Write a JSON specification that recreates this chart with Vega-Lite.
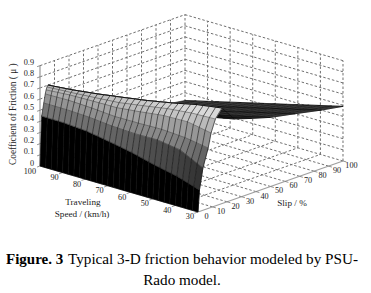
{"$schema":"https://vega.github.io/schema/vega-lite/v6.json","width":371,"height":293,"padding":0,"autosize":{"type":"none"},"background":"white","config":{"view":{"stroke":null}},
"data":{"values":[
{"part":"cap1","t":"Figure. 3","v":100,"s":-23.45,"m":-0.7286},{"part":"cap2","t":"Typical 3-D friction behavior modeled by PSU-","v":100,"s":19.31,"m":-0.9231},{"part":"cap3","t":"Rado model.","v":100,"s":97.93,"m":-1.4712},
{"part":"wall","id":"a1","v":100,"s":0,"m":0.1},{"part":"wall","id":"a1","v":100,"s":100,"m":0.1},
{"part":"wall","id":"a2","v":100,"s":0,"m":0.2},{"part":"wall","id":"a2","v":100,"s":100,"m":0.2},
{"part":"wall","id":"a3","v":100,"s":0,"m":0.3},{"part":"wall","id":"a3","v":100,"s":100,"m":0.3},
{"part":"wall","id":"a4","v":100,"s":0,"m":0.4},{"part":"wall","id":"a4","v":100,"s":100,"m":0.4},
{"part":"wall","id":"a5","v":100,"s":0,"m":0.5},{"part":"wall","id":"a5","v":100,"s":100,"m":0.5},
{"part":"wall","id":"a6","v":100,"s":0,"m":0.6},{"part":"wall","id":"a6","v":100,"s":100,"m":0.6},
{"part":"wall","id":"a7","v":100,"s":0,"m":0.7},{"part":"wall","id":"a7","v":100,"s":100,"m":0.7},
{"part":"wall","id":"a8","v":100,"s":0,"m":0.8},{"part":"wall","id":"a8","v":100,"s":100,"m":0.8},
{"part":"wall","id":"a9","v":100,"s":0,"m":0.9},{"part":"wall","id":"a9","v":100,"s":100,"m":0.9},
{"part":"wall","id":"b1","v":100,"s":100,"m":0.1},{"part":"wall","id":"b1","v":30,"s":100,"m":0.1},
{"part":"wall","id":"b2","v":100,"s":100,"m":0.2},{"part":"wall","id":"b2","v":30,"s":100,"m":0.2},
{"part":"wall","id":"b3","v":100,"s":100,"m":0.3},{"part":"wall","id":"b3","v":30,"s":100,"m":0.3},
{"part":"wall","id":"b4","v":100,"s":100,"m":0.4},{"part":"wall","id":"b4","v":30,"s":100,"m":0.4},
{"part":"wall","id":"b5","v":100,"s":100,"m":0.5},{"part":"wall","id":"b5","v":30,"s":100,"m":0.5},
{"part":"wall","id":"b6","v":100,"s":100,"m":0.6},{"part":"wall","id":"b6","v":30,"s":100,"m":0.6},
{"part":"wall","id":"b7","v":100,"s":100,"m":0.7},{"part":"wall","id":"b7","v":30,"s":100,"m":0.7},
{"part":"wall","id":"b8","v":100,"s":100,"m":0.8},{"part":"wall","id":"b8","v":30,"s":100,"m":0.8},
{"part":"wall","id":"b9","v":100,"s":100,"m":0.9},{"part":"wall","id":"b9","v":30,"s":100,"m":0.9},
{"part":"wall","id":"c1","v":100,"s":10,"m":0},{"part":"wall","id":"c1","v":100,"s":10,"m":0.9},
{"part":"wall","id":"c2","v":100,"s":20,"m":0},{"part":"wall","id":"c2","v":100,"s":20,"m":0.9},
{"part":"wall","id":"c3","v":100,"s":30,"m":0},{"part":"wall","id":"c3","v":100,"s":30,"m":0.9},
{"part":"wall","id":"c4","v":100,"s":40,"m":0},{"part":"wall","id":"c4","v":100,"s":40,"m":0.9},
{"part":"wall","id":"c5","v":100,"s":50,"m":0},{"part":"wall","id":"c5","v":100,"s":50,"m":0.9},
{"part":"wall","id":"c6","v":100,"s":60,"m":0},{"part":"wall","id":"c6","v":100,"s":60,"m":0.9},
{"part":"wall","id":"c7","v":100,"s":70,"m":0},{"part":"wall","id":"c7","v":100,"s":70,"m":0.9},
{"part":"wall","id":"c8","v":100,"s":80,"m":0},{"part":"wall","id":"c8","v":100,"s":80,"m":0.9},
{"part":"wall","id":"c9","v":100,"s":90,"m":0},{"part":"wall","id":"c9","v":100,"s":90,"m":0.9},
{"part":"wall","id":"c10","v":100,"s":100,"m":0},{"part":"wall","id":"c10","v":100,"s":100,"m":0.9},
{"part":"wall","id":"d1","v":90,"s":100,"m":0},{"part":"wall","id":"d1","v":90,"s":100,"m":0.9},
{"part":"wall","id":"d2","v":80,"s":100,"m":0},{"part":"wall","id":"d2","v":80,"s":100,"m":0.9},
{"part":"wall","id":"d3","v":70,"s":100,"m":0},{"part":"wall","id":"d3","v":70,"s":100,"m":0.9},
{"part":"wall","id":"d4","v":60,"s":100,"m":0},{"part":"wall","id":"d4","v":60,"s":100,"m":0.9},
{"part":"wall","id":"d5","v":50,"s":100,"m":0},{"part":"wall","id":"d5","v":50,"s":100,"m":0.9},
{"part":"wall","id":"d6","v":40,"s":100,"m":0},{"part":"wall","id":"d6","v":40,"s":100,"m":0.9},
{"part":"wall","id":"d7","v":30,"s":100,"m":0},{"part":"wall","id":"d7","v":30,"s":100,"m":0.9},
{"part":"wall","id":"e0","v":100,"s":100,"m":0},{"part":"wall","id":"e0","v":30,"s":100,"m":0},
{"part":"wall","id":"e1","v":100,"s":10,"m":0},{"part":"wall","id":"e1","v":30,"s":10,"m":0},
{"part":"wall","id":"e2","v":100,"s":20,"m":0},{"part":"wall","id":"e2","v":30,"s":20,"m":0},
{"part":"wall","id":"e3","v":100,"s":30,"m":0},{"part":"wall","id":"e3","v":30,"s":30,"m":0},
{"part":"wall","id":"e4","v":100,"s":40,"m":0},{"part":"wall","id":"e4","v":30,"s":40,"m":0},
{"part":"wall","id":"e5","v":100,"s":50,"m":0},{"part":"wall","id":"e5","v":30,"s":50,"m":0},
{"part":"wall","id":"e6","v":100,"s":60,"m":0},{"part":"wall","id":"e6","v":30,"s":60,"m":0},
{"part":"wall","id":"e7","v":100,"s":70,"m":0},{"part":"wall","id":"e7","v":30,"s":70,"m":0},
{"part":"wall","id":"e8","v":100,"s":80,"m":0},{"part":"wall","id":"e8","v":30,"s":80,"m":0},
{"part":"wall","id":"e9","v":100,"s":90,"m":0},{"part":"wall","id":"e9","v":30,"s":90,"m":0},
{"part":"wall","id":"f0","v":100,"s":0,"m":0},{"part":"wall","id":"f0","v":100,"s":100,"m":0},
{"part":"wall","id":"f1","v":90,"s":0,"m":0},{"part":"wall","id":"f1","v":90,"s":100,"m":0},
{"part":"wall","id":"f2","v":80,"s":0,"m":0},{"part":"wall","id":"f2","v":80,"s":100,"m":0},
{"part":"wall","id":"f3","v":70,"s":0,"m":0},{"part":"wall","id":"f3","v":70,"s":100,"m":0},
{"part":"wall","id":"f4","v":60,"s":0,"m":0},{"part":"wall","id":"f4","v":60,"s":100,"m":0},
{"part":"wall","id":"f5","v":50,"s":0,"m":0},{"part":"wall","id":"f5","v":50,"s":100,"m":0},
{"part":"wall","id":"f6","v":40,"s":0,"m":0},{"part":"wall","id":"f6","v":40,"s":100,"m":0},
{"part":"axis","id":"z","v":100,"s":0,"m":0},{"part":"axis","id":"z","v":100,"s":0,"m":0.9},
{"part":"axis","id":"x","v":30,"s":0,"m":0},{"part":"axis","id":"x","v":30,"s":100,"m":0},
{"part":"axis","id":"y","v":100,"s":0,"m":0},{"part":"axis","id":"y","v":30,"s":0,"m":0},
{"part":"tick","id":"z0","v":100,"s":0,"m":0},{"part":"tick","id":"z0","v":100,"s":-2,"m":0},
{"part":"tick","id":"z1","v":100,"s":0,"m":0.1},{"part":"tick","id":"z1","v":100,"s":-2,"m":0.1},
{"part":"tick","id":"z2","v":100,"s":0,"m":0.2},{"part":"tick","id":"z2","v":100,"s":-2,"m":0.2},
{"part":"tick","id":"z3","v":100,"s":0,"m":0.3},{"part":"tick","id":"z3","v":100,"s":-2,"m":0.3},
{"part":"tick","id":"z4","v":100,"s":0,"m":0.4},{"part":"tick","id":"z4","v":100,"s":-2,"m":0.4},
{"part":"tick","id":"z5","v":100,"s":0,"m":0.5},{"part":"tick","id":"z5","v":100,"s":-2,"m":0.5},
{"part":"tick","id":"z6","v":100,"s":0,"m":0.6},{"part":"tick","id":"z6","v":100,"s":-2,"m":0.6},
{"part":"tick","id":"z7","v":100,"s":0,"m":0.7},{"part":"tick","id":"z7","v":100,"s":-2,"m":0.7},
{"part":"tick","id":"z8","v":100,"s":0,"m":0.8},{"part":"tick","id":"z8","v":100,"s":-2,"m":0.8},
{"part":"tick","id":"z9","v":100,"s":0,"m":0.9},{"part":"tick","id":"z9","v":100,"s":-2,"m":0.9},
{"part":"tick","id":"v9","v":90,"s":0,"m":0},{"part":"tick","id":"v9","v":90,"s":-2.5,"m":0},
{"part":"tick","id":"v8","v":80,"s":0,"m":0},{"part":"tick","id":"v8","v":80,"s":-2.5,"m":0},
{"part":"tick","id":"v7","v":70,"s":0,"m":0},{"part":"tick","id":"v7","v":70,"s":-2.5,"m":0},
{"part":"tick","id":"v6","v":60,"s":0,"m":0},{"part":"tick","id":"v6","v":60,"s":-2.5,"m":0},
{"part":"tick","id":"v5","v":50,"s":0,"m":0},{"part":"tick","id":"v5","v":50,"s":-2.5,"m":0},
{"part":"tick","id":"v4","v":40,"s":0,"m":0},{"part":"tick","id":"v4","v":40,"s":-2.5,"m":0},
{"part":"tick","id":"v3","v":30,"s":0,"m":0},{"part":"tick","id":"v3","v":30,"s":-2.5,"m":0},
{"part":"tick","id":"s1","v":30,"s":10,"m":0},{"part":"tick","id":"s1","v":28.5,"s":10,"m":0},
{"part":"tick","id":"s2","v":30,"s":20,"m":0},{"part":"tick","id":"s2","v":28.5,"s":20,"m":0},
{"part":"tick","id":"s3","v":30,"s":30,"m":0},{"part":"tick","id":"s3","v":28.5,"s":30,"m":0},
{"part":"tick","id":"s4","v":30,"s":40,"m":0},{"part":"tick","id":"s4","v":28.5,"s":40,"m":0},
{"part":"tick","id":"s5","v":30,"s":50,"m":0},{"part":"tick","id":"s5","v":28.5,"s":50,"m":0},
{"part":"tick","id":"s6","v":30,"s":60,"m":0},{"part":"tick","id":"s6","v":28.5,"s":60,"m":0},
{"part":"tick","id":"s7","v":30,"s":70,"m":0},{"part":"tick","id":"s7","v":28.5,"s":70,"m":0},
{"part":"tick","id":"s8","v":30,"s":80,"m":0},{"part":"tick","id":"s8","v":28.5,"s":80,"m":0},
{"part":"tick","id":"s9","v":30,"s":90,"m":0},{"part":"tick","id":"s9","v":28.5,"s":90,"m":0},
{"part":"tick","id":"s10","v":30,"s":100,"m":0},{"part":"tick","id":"s10","v":28.5,"s":100,"m":0},
{"part":"zl","t":"0","v":100,"s":0,"m":0},{"part":"zl","t":"0.1","v":100,"s":0,"m":0.1},{"part":"zl","t":"0.2","v":100,"s":0,"m":0.2},{"part":"zl","t":"0.3","v":100,"s":0,"m":0.3},{"part":"zl","t":"0.4","v":100,"s":0,"m":0.4},{"part":"zl","t":"0.5","v":100,"s":0,"m":0.5},{"part":"zl","t":"0.6","v":100,"s":0,"m":0.6},{"part":"zl","t":"0.7","v":100,"s":0,"m":0.7},{"part":"zl","t":"0.8","v":100,"s":0,"m":0.8},{"part":"zl","t":"0.9","v":100,"s":0,"m":0.9},
{"part":"vl","t":"100","v":100,"s":0,"m":0},{"part":"vl","t":"90","v":90,"s":0,"m":0},{"part":"vl","t":"80","v":80,"s":0,"m":0},{"part":"vl","t":"70","v":70,"s":0,"m":0},{"part":"vl","t":"60","v":60,"s":0,"m":0},{"part":"vl","t":"50","v":50,"s":0,"m":0},{"part":"vl","t":"40","v":40,"s":0,"m":0},{"part":"vl","t":"30","v":30,"s":0,"m":0},
{"part":"sl","t":"0","v":30,"s":0,"m":0},{"part":"sl","t":"10","v":30,"s":10,"m":0},{"part":"sl","t":"20","v":30,"s":20,"m":0},{"part":"sl","t":"30","v":30,"s":30,"m":0},{"part":"sl","t":"40","v":30,"s":40,"m":0},{"part":"sl","t":"50","v":30,"s":50,"m":0},{"part":"sl","t":"60","v":30,"s":60,"m":0},{"part":"sl","t":"70","v":30,"s":70,"m":0},{"part":"sl","t":"80","v":30,"s":80,"m":0},{"part":"sl","t":"90","v":30,"s":90,"m":0},{"part":"sl","t":"100","v":30,"s":100,"m":0},
{"part":"title","t":"Traveling","v":64.8,"s":-25.2,"m":0},{"part":"title","t":"Speed / (km/h)","v":56.7,"s":-38.4,"m":0},{"part":"title","t":"Slip / %","v":13.4,"s":39,"m":0},
{"part":"ztitle","t":"Coefficient of Friction ( μ )","v":100,"s":-18.6,"m":0.55},
{"part":"far","r":6,"v":100,"s":5.5,"m":0.701},{"part":"far","r":6,"v":95,"s":6.29,"m":0.705},{"part":"far","r":6,"v":90,"s":7.07,"m":0.709},{"part":"far","r":6,"v":85,"s":7.86,"m":0.717},{"part":"far","r":6,"v":80,"s":8.64,"m":0.725},{"part":"far","r":6,"v":75,"s":9.43,"m":0.736},{"part":"far","r":6,"v":70,"s":10.21,"m":0.746},{"part":"far","r":6,"v":65,"s":11,"m":0.758},{"part":"far","r":6,"v":60,"s":11.79,"m":0.769},{"part":"far","r":6,"v":55,"s":12.57,"m":0.784},{"part":"far","r":6,"v":50,"s":13.36,"m":0.799},{"part":"far","r":6,"v":45,"s":14.14,"m":0.818},{"part":"far","r":6,"v":40,"s":14.93,"m":0.836},{"part":"far","r":6,"v":35,"s":15.71,"m":0.847},{"part":"far","r":6,"v":30,"s":16.5,"m":0.857},
{"part":"far","r":7,"v":100,"s":25,"m":0.42},{"part":"far","r":7,"v":95,"s":25,"m":0.441},{"part":"far","r":7,"v":90,"s":25,"m":0.463},{"part":"far","r":7,"v":85,"s":25,"m":0.484},{"part":"far","r":7,"v":80,"s":25,"m":0.506},{"part":"far","r":7,"v":75,"s":25,"m":0.527},{"part":"far","r":7,"v":70,"s":25,"m":0.549},{"part":"far","r":7,"v":65,"s":25,"m":0.57},{"part":"far","r":7,"v":60,"s":25,"m":0.591},{"part":"far","r":7,"v":55,"s":25,"m":0.613},{"part":"far","r":7,"v":50,"s":25,"m":0.634},{"part":"far","r":7,"v":45,"s":25,"m":0.656},{"part":"far","r":7,"v":40,"s":25,"m":0.677},{"part":"far","r":7,"v":35,"s":25,"m":0.699},{"part":"far","r":7,"v":30,"s":25,"m":0.72},
{"part":"far","r":8,"v":100,"s":37,"m":0.33},{"part":"far","r":8,"v":95,"s":37,"m":0.354},{"part":"far","r":8,"v":90,"s":37,"m":0.379},{"part":"far","r":8,"v":85,"s":37,"m":0.403},{"part":"far","r":8,"v":80,"s":37,"m":0.427},{"part":"far","r":8,"v":75,"s":37,"m":0.451},{"part":"far","r":8,"v":70,"s":37,"m":0.476},{"part":"far","r":8,"v":65,"s":37,"m":0.5},{"part":"far","r":8,"v":60,"s":37,"m":0.524},{"part":"far","r":8,"v":55,"s":37,"m":0.549},{"part":"far","r":8,"v":50,"s":37,"m":0.573},{"part":"far","r":8,"v":45,"s":37,"m":0.597},{"part":"far","r":8,"v":40,"s":37,"m":0.621},{"part":"far","r":8,"v":35,"s":37,"m":0.646},{"part":"far","r":8,"v":30,"s":37,"m":0.67},
{"part":"far","r":9,"v":100,"s":50,"m":0.27},{"part":"far","r":9,"v":95,"s":50,"m":0.295},{"part":"far","r":9,"v":90,"s":50,"m":0.32},{"part":"far","r":9,"v":85,"s":50,"m":0.345},{"part":"far","r":9,"v":80,"s":50,"m":0.37},{"part":"far","r":9,"v":75,"s":50,"m":0.395},{"part":"far","r":9,"v":70,"s":50,"m":0.42},{"part":"far","r":9,"v":65,"s":50,"m":0.445},{"part":"far","r":9,"v":60,"s":50,"m":0.47},{"part":"far","r":9,"v":55,"s":50,"m":0.495},{"part":"far","r":9,"v":50,"s":50,"m":0.52},{"part":"far","r":9,"v":45,"s":50,"m":0.545},{"part":"far","r":9,"v":40,"s":50,"m":0.57},{"part":"far","r":9,"v":35,"s":50,"m":0.595},{"part":"far","r":9,"v":30,"s":50,"m":0.62},
{"part":"far","r":10,"v":100,"s":67,"m":0.21},{"part":"far","r":10,"v":95,"s":67,"m":0.236},{"part":"far","r":10,"v":90,"s":67,"m":0.262},{"part":"far","r":10,"v":85,"s":67,"m":0.288},{"part":"far","r":10,"v":80,"s":67,"m":0.314},{"part":"far","r":10,"v":75,"s":67,"m":0.341},{"part":"far","r":10,"v":70,"s":67,"m":0.367},{"part":"far","r":10,"v":65,"s":67,"m":0.393},{"part":"far","r":10,"v":60,"s":67,"m":0.419},{"part":"far","r":10,"v":55,"s":67,"m":0.445},{"part":"far","r":10,"v":50,"s":67,"m":0.471},{"part":"far","r":10,"v":45,"s":67,"m":0.497},{"part":"far","r":10,"v":40,"s":67,"m":0.523},{"part":"far","r":10,"v":35,"s":67,"m":0.549},{"part":"far","r":10,"v":30,"s":67,"m":0.575},
{"part":"far","r":11,"v":100,"s":85,"m":0.16},{"part":"far","r":11,"v":95,"s":85,"m":0.186},{"part":"far","r":11,"v":90,"s":85,"m":0.212},{"part":"far","r":11,"v":85,"s":85,"m":0.238},{"part":"far","r":11,"v":80,"s":85,"m":0.264},{"part":"far","r":11,"v":75,"s":85,"m":0.291},{"part":"far","r":11,"v":70,"s":85,"m":0.317},{"part":"far","r":11,"v":65,"s":85,"m":0.343},{"part":"far","r":11,"v":60,"s":85,"m":0.369},{"part":"far","r":11,"v":55,"s":85,"m":0.395},{"part":"far","r":11,"v":50,"s":85,"m":0.421},{"part":"far","r":11,"v":45,"s":85,"m":0.447},{"part":"far","r":11,"v":40,"s":85,"m":0.473},{"part":"far","r":11,"v":35,"s":85,"m":0.499},{"part":"far","r":11,"v":30,"s":85,"m":0.525},
{"part":"far","r":12,"v":100,"s":100,"m":0.13},{"part":"far","r":12,"v":95,"s":100,"m":0.156},{"part":"far","r":12,"v":90,"s":100,"m":0.181},{"part":"far","r":12,"v":85,"s":100,"m":0.207},{"part":"far","r":12,"v":80,"s":100,"m":0.233},{"part":"far","r":12,"v":75,"s":100,"m":0.259},{"part":"far","r":12,"v":70,"s":100,"m":0.284},{"part":"far","r":12,"v":65,"s":100,"m":0.31},{"part":"far","r":12,"v":60,"s":100,"m":0.336},{"part":"far","r":12,"v":55,"s":100,"m":0.361},{"part":"far","r":12,"v":50,"s":100,"m":0.387},{"part":"far","r":12,"v":45,"s":100,"m":0.413},{"part":"far","r":12,"v":40,"s":100,"m":0.439},{"part":"far","r":12,"v":35,"s":100,"m":0.464},{"part":"far","r":12,"v":30,"s":100,"m":0.49},
{"part":"near","r":0,"v":100,"s":0,"m":0},{"part":"near","r":1,"v":100,"s":1.1,"m":0.443},{"part":"near","r":2,"v":100,"s":2.6,"m":0.553},{"part":"near","r":3,"v":100,"s":3.6,"m":0.63},{"part":"near","r":4,"v":100,"s":4.2,"m":0.663},{"part":"near","r":5,"v":100,"s":4.8,"m":0.687},{"part":"near","r":6,"v":100,"s":5.5,"m":0.701},
{"part":"near","r":0,"v":97.5,"s":0,"m":0},{"part":"near","r":1,"v":97.5,"s":1.1,"m":0.443},{"part":"near","r":2,"v":97.5,"s":2.63,"m":0.553},{"part":"near","r":3,"v":97.5,"s":3.72,"m":0.63},{"part":"near","r":4,"v":97.5,"s":4.37,"m":0.666},{"part":"near","r":5,"v":97.5,"s":5.06,"m":0.688},{"part":"near","r":6,"v":97.5,"s":5.89,"m":0.703},
{"part":"near","r":0,"v":95,"s":0,"m":0},{"part":"near","r":1,"v":95,"s":1.1,"m":0.442},{"part":"near","r":2,"v":95,"s":2.66,"m":0.553},{"part":"near","r":3,"v":95,"s":3.84,"m":0.63},{"part":"near","r":4,"v":95,"s":4.54,"m":0.669},{"part":"near","r":5,"v":95,"s":5.31,"m":0.69},{"part":"near","r":6,"v":95,"s":6.29,"m":0.705},
{"part":"near","r":0,"v":92.5,"s":0,"m":0},{"part":"near","r":1,"v":92.5,"s":1.1,"m":0.442},{"part":"near","r":2,"v":92.5,"s":2.69,"m":0.552},{"part":"near","r":3,"v":92.5,"s":3.96,"m":0.63},{"part":"near","r":4,"v":92.5,"s":4.71,"m":0.671},{"part":"near","r":5,"v":92.5,"s":5.57,"m":0.691},{"part":"near","r":6,"v":92.5,"s":6.68,"m":0.707},
{"part":"near","r":0,"v":90,"s":0,"m":0},{"part":"near","r":1,"v":90,"s":1.1,"m":0.441},{"part":"near","r":2,"v":90,"s":2.71,"m":0.552},{"part":"near","r":3,"v":90,"s":4.09,"m":0.63},{"part":"near","r":4,"v":90,"s":4.89,"m":0.674},{"part":"near","r":5,"v":90,"s":5.83,"m":0.692},{"part":"near","r":6,"v":90,"s":7.07,"m":0.709},
{"part":"near","r":0,"v":87.5,"s":0,"m":0},{"part":"near","r":1,"v":87.5,"s":1.1,"m":0.437},{"part":"near","r":2,"v":87.5,"s":2.74,"m":0.55},{"part":"near","r":3,"v":87.5,"s":4.21,"m":0.627},{"part":"near","r":4,"v":87.5,"s":5.06,"m":0.674},{"part":"near","r":5,"v":87.5,"s":6.09,"m":0.694},{"part":"near","r":6,"v":87.5,"s":7.46,"m":0.713},
{"part":"near","r":0,"v":85,"s":0,"m":0},{"part":"near","r":1,"v":85,"s":1.1,"m":0.434},{"part":"near","r":2,"v":85,"s":2.77,"m":0.547},{"part":"near","r":3,"v":85,"s":4.33,"m":0.624},{"part":"near","r":4,"v":85,"s":5.23,"m":0.674},{"part":"near","r":5,"v":85,"s":6.34,"m":0.696},{"part":"near","r":6,"v":85,"s":7.86,"m":0.717},
{"part":"near","r":0,"v":82.5,"s":0,"m":0},{"part":"near","r":1,"v":82.5,"s":1.1,"m":0.43},{"part":"near","r":2,"v":82.5,"s":2.8,"m":0.545},{"part":"near","r":3,"v":82.5,"s":4.45,"m":0.62},{"part":"near","r":4,"v":82.5,"s":5.4,"m":0.674},{"part":"near","r":5,"v":82.5,"s":6.6,"m":0.698},{"part":"near","r":6,"v":82.5,"s":8.25,"m":0.721},
{"part":"near","r":0,"v":80,"s":0,"m":0},{"part":"near","r":1,"v":80,"s":1.1,"m":0.426},{"part":"near","r":2,"v":80,"s":2.83,"m":0.542},{"part":"near","r":3,"v":80,"s":4.57,"m":0.617},{"part":"near","r":4,"v":80,"s":5.57,"m":0.674},{"part":"near","r":5,"v":80,"s":6.86,"m":0.7},{"part":"near","r":6,"v":80,"s":8.64,"m":0.725},
{"part":"near","r":0,"v":77.5,"s":0,"m":0},{"part":"near","r":1,"v":77.5,"s":1.1,"m":0.417},{"part":"near","r":2,"v":77.5,"s":2.86,"m":0.537},{"part":"near","r":3,"v":77.5,"s":4.69,"m":0.612},{"part":"near","r":4,"v":77.5,"s":5.74,"m":0.673},{"part":"near","r":5,"v":77.5,"s":7.11,"m":0.702},{"part":"near","r":6,"v":77.5,"s":9.03,"m":0.73},
{"part":"near","r":0,"v":75,"s":0,"m":0},{"part":"near","r":1,"v":75,"s":1.1,"m":0.409},{"part":"near","r":2,"v":75,"s":2.89,"m":0.532},{"part":"near","r":3,"v":75,"s":4.81,"m":0.607},{"part":"near","r":4,"v":75,"s":5.91,"m":0.673},{"part":"near","r":5,"v":75,"s":7.37,"m":0.705},{"part":"near","r":6,"v":75,"s":9.43,"m":0.736},
{"part":"near","r":0,"v":72.5,"s":0,"m":0},{"part":"near","r":1,"v":72.5,"s":1.1,"m":0.4},{"part":"near","r":2,"v":72.5,"s":2.91,"m":0.527},{"part":"near","r":3,"v":72.5,"s":4.94,"m":0.602},{"part":"near","r":4,"v":72.5,"s":6.09,"m":0.672},{"part":"near","r":5,"v":72.5,"s":7.63,"m":0.707},{"part":"near","r":6,"v":72.5,"s":9.82,"m":0.741},
{"part":"near","r":0,"v":70,"s":0,"m":0},{"part":"near","r":1,"v":70,"s":1.1,"m":0.391},{"part":"near","r":2,"v":70,"s":2.94,"m":0.522},{"part":"near","r":3,"v":70,"s":5.06,"m":0.597},{"part":"near","r":4,"v":70,"s":6.26,"m":0.671},{"part":"near","r":5,"v":70,"s":7.89,"m":0.709},{"part":"near","r":6,"v":70,"s":10.21,"m":0.746},
{"part":"near","r":0,"v":67.5,"s":0,"m":0},{"part":"near","r":1,"v":67.5,"s":1.1,"m":0.381},{"part":"near","r":2,"v":67.5,"s":2.97,"m":0.52},{"part":"near","r":3,"v":67.5,"s":5.18,"m":0.597},{"part":"near","r":4,"v":67.5,"s":6.43,"m":0.676},{"part":"near","r":5,"v":67.5,"s":8.14,"m":0.716},{"part":"near","r":6,"v":67.5,"s":10.6,"m":0.752},
{"part":"near","r":0,"v":65,"s":0,"m":0},{"part":"near","r":1,"v":65,"s":1.1,"m":0.372},{"part":"near","r":2,"v":65,"s":3,"m":0.517},{"part":"near","r":3,"v":65,"s":5.3,"m":0.596},{"part":"near","r":4,"v":65,"s":6.6,"m":0.681},{"part":"near","r":5,"v":65,"s":8.4,"m":0.723},{"part":"near","r":6,"v":65,"s":11,"m":0.758},
{"part":"near","r":0,"v":62.5,"s":0,"m":0},{"part":"near","r":1,"v":62.5,"s":1.1,"m":0.362},{"part":"near","r":2,"v":62.5,"s":3.03,"m":0.515},{"part":"near","r":3,"v":62.5,"s":5.42,"m":0.596},{"part":"near","r":4,"v":62.5,"s":6.77,"m":0.685},{"part":"near","r":5,"v":62.5,"s":8.66,"m":0.729},{"part":"near","r":6,"v":62.5,"s":11.39,"m":0.763},
{"part":"near","r":0,"v":60,"s":0,"m":0},{"part":"near","r":1,"v":60,"s":1.1,"m":0.352},{"part":"near","r":2,"v":60,"s":3.06,"m":0.512},{"part":"near","r":3,"v":60,"s":5.54,"m":0.595},{"part":"near","r":4,"v":60,"s":6.94,"m":0.69},{"part":"near","r":5,"v":60,"s":8.91,"m":0.736},{"part":"near","r":6,"v":60,"s":11.79,"m":0.769},
{"part":"near","r":0,"v":57.5,"s":0,"m":0},{"part":"near","r":1,"v":57.5,"s":1.1,"m":0.339},{"part":"near","r":2,"v":57.5,"s":3.09,"m":0.513},{"part":"near","r":3,"v":57.5,"s":5.66,"m":0.595},{"part":"near","r":4,"v":57.5,"s":7.11,"m":0.696},{"part":"near","r":5,"v":57.5,"s":9.17,"m":0.743},{"part":"near","r":6,"v":57.5,"s":12.18,"m":0.777},
{"part":"near","r":0,"v":55,"s":0,"m":0},{"part":"near","r":1,"v":55,"s":1.1,"m":0.326},{"part":"near","r":2,"v":55,"s":3.11,"m":0.514},{"part":"near","r":3,"v":55,"s":5.79,"m":0.596},{"part":"near","r":4,"v":55,"s":7.29,"m":0.701},{"part":"near","r":5,"v":55,"s":9.43,"m":0.75},{"part":"near","r":6,"v":55,"s":12.57,"m":0.784},
{"part":"near","r":0,"v":52.5,"s":0,"m":0},{"part":"near","r":1,"v":52.5,"s":1.1,"m":0.313},{"part":"near","r":2,"v":52.5,"s":3.14,"m":0.514},{"part":"near","r":3,"v":52.5,"s":5.91,"m":0.596},{"part":"near","r":4,"v":52.5,"s":7.46,"m":0.707},{"part":"near","r":5,"v":52.5,"s":9.69,"m":0.757},{"part":"near","r":6,"v":52.5,"s":12.96,"m":0.792},
{"part":"near","r":0,"v":50,"s":0,"m":0},{"part":"near","r":1,"v":50,"s":1.1,"m":0.3},{"part":"near","r":2,"v":50,"s":3.17,"m":0.515},{"part":"near","r":3,"v":50,"s":6.03,"m":0.596},{"part":"near","r":4,"v":50,"s":7.63,"m":0.712},{"part":"near","r":5,"v":50,"s":9.94,"m":0.764},{"part":"near","r":6,"v":50,"s":13.36,"m":0.799},
{"part":"near","r":0,"v":47.5,"s":0,"m":0},{"part":"near","r":1,"v":47.5,"s":1.05,"m":0.29},{"part":"near","r":2,"v":47.5,"s":3.2,"m":0.507},{"part":"near","r":3,"v":47.5,"s":6.15,"m":0.592},{"part":"near","r":4,"v":47.5,"s":7.8,"m":0.712},{"part":"near","r":5,"v":47.5,"s":10.2,"m":0.768},{"part":"near","r":6,"v":47.5,"s":13.75,"m":0.808},
{"part":"near","r":0,"v":45,"s":0,"m":0},{"part":"near","r":1,"v":45,"s":1.05,"m":0.279},{"part":"near","r":2,"v":45,"s":3.23,"m":0.499},{"part":"near","r":3,"v":45,"s":6.27,"m":0.588},{"part":"near","r":4,"v":45,"s":7.97,"m":0.712},{"part":"near","r":5,"v":45,"s":10.46,"m":0.772},{"part":"near","r":6,"v":45,"s":14.14,"m":0.818},
{"part":"near","r":0,"v":42.5,"s":0,"m":0},{"part":"near","r":1,"v":42.5,"s":1.05,"m":0.269},{"part":"near","r":2,"v":42.5,"s":3.26,"m":0.491},{"part":"near","r":3,"v":42.5,"s":6.39,"m":0.583},{"part":"near","r":4,"v":42.5,"s":8.14,"m":0.712},{"part":"near","r":5,"v":42.5,"s":10.71,"m":0.775},{"part":"near","r":6,"v":42.5,"s":14.54,"m":0.827},
{"part":"near","r":0,"v":40,"s":0,"m":0},{"part":"near","r":1,"v":40,"s":1.03,"m":0.258},{"part":"near","r":2,"v":40,"s":3.29,"m":0.483},{"part":"near","r":3,"v":40,"s":6.51,"m":0.579},{"part":"near","r":4,"v":40,"s":8.31,"m":0.712},{"part":"near","r":5,"v":40,"s":10.97,"m":0.779},{"part":"near","r":6,"v":40,"s":14.93,"m":0.836},
{"part":"near","r":0,"v":37.5,"s":0,"m":0},{"part":"near","r":1,"v":37.5,"s":1.02,"m":0.242},{"part":"near","r":2,"v":37.5,"s":3.31,"m":0.457},{"part":"near","r":3,"v":37.5,"s":6.64,"m":0.57},{"part":"near","r":4,"v":37.5,"s":8.49,"m":0.701},{"part":"near","r":5,"v":37.5,"s":11.23,"m":0.779},{"part":"near","r":6,"v":37.5,"s":15.32,"m":0.841},
{"part":"near","r":0,"v":35,"s":0,"m":0},{"part":"near","r":1,"v":35,"s":1.01,"m":0.226},{"part":"near","r":2,"v":35,"s":3.34,"m":0.432},{"part":"near","r":3,"v":35,"s":6.76,"m":0.561},{"part":"near","r":4,"v":35,"s":8.66,"m":0.69},{"part":"near","r":5,"v":35,"s":11.49,"m":0.779},{"part":"near","r":6,"v":35,"s":15.71,"m":0.847},
{"part":"near","r":0,"v":32.5,"s":0,"m":0},{"part":"near","r":1,"v":32.5,"s":1,"m":0.209},{"part":"near","r":2,"v":32.5,"s":3.37,"m":0.406},{"part":"near","r":3,"v":32.5,"s":6.88,"m":0.551},{"part":"near","r":4,"v":32.5,"s":8.83,"m":0.678},{"part":"near","r":5,"v":32.5,"s":11.74,"m":0.779},{"part":"near","r":6,"v":32.5,"s":16.11,"m":0.852},
{"part":"near","r":0,"v":30,"s":0,"m":0},{"part":"near","r":1,"v":30,"s":1,"m":0.193},{"part":"near","r":2,"v":30,"s":3.4,"m":0.38},{"part":"near","r":3,"v":30,"s":7,"m":0.542},{"part":"near","r":4,"v":30,"s":9,"m":0.667},{"part":"near","r":5,"v":30,"s":12,"m":0.779},{"part":"near","r":6,"v":30,"s":16.5,"m":0.857}
]},
"transform":[
{"calculate":"2.257*(100-datum.v)+1.45*datum.s","as":"px"},
{"calculate":"111.5*datum.m+0.51*datum.s-0.657*(100-datum.v)","as":"h"}
],
"encoding":{
"x":{"field":"px","type":"quantitative","scale":{"domain":[-40,331]},"axis":null},
"y":{"field":"h","type":"quantitative","scale":{"domain":[-127,166]},"axis":null}
},
"layer":[
{"transform":[{"filter":"datum.part==='wall'"}],"mark":{"type":"line","stroke":"#707070","strokeWidth":1,"strokeDash":[2.5,2]},"encoding":{"detail":{"field":"id"}}},
{"transform":[{"filter":"datum.part==='axis'"}],"mark":{"type":"line","stroke":"#a0a0a0","strokeWidth":1.3},"encoding":{"detail":{"field":"id"}}},
{"transform":[{"filter":"datum.part==='tick'"}],"mark":{"type":"line","stroke":"#777777","strokeWidth":0.8},"encoding":{"detail":{"field":"id"}}},
{"transform":[{"filter":"datum.part==='far'"},{"calculate":"(100-datum.v)/5","as":"i"},{"calculate":"[datum.i*100+datum.r,(datum.i-1)*100+datum.r,(datum.i-1)*100+datum.r-1,datum.i*100+datum.r-1]","as":"q"},{"calculate":"[0,1,2,3]","as":"o"},{"flatten":["q","o"]},{"filter":"datum.q>=0&&datum.q<1400&&datum.q%100>=6&&datum.q%100<=11"}],"mark":{"type":"line","fill":"#3a3a3a","stroke":"#3a3a3a","strokeWidth":0.6},"encoding":{"detail":{"field":"q"},"order":{"field":"o"}}},
{"transform":[{"filter":"datum.part==='far'"}],"mark":{"type":"line","stroke":"#080808","strokeWidth":0.6},"encoding":{"detail":{"field":"v"},"order":{"field":"r"}}},
{"transform":[{"filter":"datum.part==='far'"}],"mark":{"type":"line","stroke":"#080808","strokeWidth":0.6},"encoding":{"detail":{"field":"r"},"order":{"field":"v"}}},
{"transform":[{"filter":"datum.part==='near'"},{"calculate":"(100-datum.v)/2.5","as":"i"},{"calculate":"[datum.i*100+datum.r,(datum.i-1)*100+datum.r,(datum.i-1)*100+datum.r-1,datum.i*100+datum.r-1]","as":"q"},{"calculate":"[0,1,2,3]","as":"o"},{"flatten":["q","o"]},{"filter":"datum.q>=0&&datum.q<2800&&datum.q%100<=5"},{"joinaggregate":[{"op":"min","field":"m","as":"lvl"}],"groupby":["q"]}],"mark":{"type":"line","strokeWidth":0.7},"encoding":{"detail":{"field":"q"},"order":{"field":"o"},"fill":{"field":"lvl","type":"quantitative","scale":{"domain":[0,0.9],"range":["#000000","#ffffff"]},"legend":null},"stroke":{"field":"lvl","type":"quantitative","scale":{"domain":[0,0.9],"range":["#000000","#ffffff"]},"legend":null}}},
{"transform":[{"filter":"datum.part==='near'&&datum.r>0"}],"mark":{"type":"line","stroke":"#1a1a1a","strokeWidth":0.4},"encoding":{"detail":{"field":"r"},"order":{"field":"v"}}},
{"transform":[{"filter":"datum.part==='near'"}],"mark":{"type":"line","stroke":"#111111","strokeWidth":0.6},"encoding":{"detail":{"field":"v"},"order":{"field":"r"}}},
{"transform":[{"filter":"datum.part==='near'&&datum.r===6"}],"mark":{"type":"line","stroke":"#111111","strokeWidth":1},"encoding":{"order":{"field":"v"}}},
{"transform":[{"filter":"datum.part==='zl'"}],"mark":{"type":"text","font":"Liberation Serif","fontSize":8.2,"align":"right","baseline":"middle","dx":-6,"dy":-2.5,"fill":"#222222"},"encoding":{"text":{"field":"t"}}},
{"transform":[{"filter":"datum.part==='vl'"}],"mark":{"type":"text","font":"Liberation Serif","fontSize":8.2,"align":"right","baseline":"middle","dx":-4,"dy":5.5,"fill":"#222222"},"encoding":{"text":{"field":"t"}}},
{"transform":[{"filter":"datum.part==='sl'"}],"mark":{"type":"text","font":"Liberation Serif","fontSize":8.2,"align":"center","baseline":"middle","dx":8.5,"dy":5,"fill":"#222222"},"encoding":{"text":{"field":"t"}}},
{"transform":[{"filter":"datum.part==='title'"}],"mark":{"type":"text","font":"Liberation Serif","fontSize":9.2,"align":"center","baseline":"middle","fill":"#222222"},"encoding":{"text":{"field":"t"}}},
{"transform":[{"filter":"datum.part==='ztitle'"}],"mark":{"type":"text","font":"Liberation Serif","fontSize":9.3,"align":"center","baseline":"middle","angle":270,"fill":"#222222"},"encoding":{"text":{"field":"t"}}},
{"transform":[{"filter":"datum.part==='cap1'"}],"mark":{"type":"text","font":"Liberation Serif","fontSize":15,"fontWeight":"bold","align":"left","baseline":"middle","fill":"#000000"},"encoding":{"text":{"field":"t"}}},
{"transform":[{"filter":"datum.part==='cap2'"}],"mark":{"type":"text","font":"Liberation Serif","fontSize":15.2,"align":"left","baseline":"middle","fill":"#000000"},"encoding":{"text":{"field":"t"}}},
{"transform":[{"filter":"datum.part==='cap3'"}],"mark":{"type":"text","font":"Liberation Serif","fontSize":15.2,"align":"center","baseline":"middle","fill":"#000000"},"encoding":{"text":{"field":"t"}}}
]}
